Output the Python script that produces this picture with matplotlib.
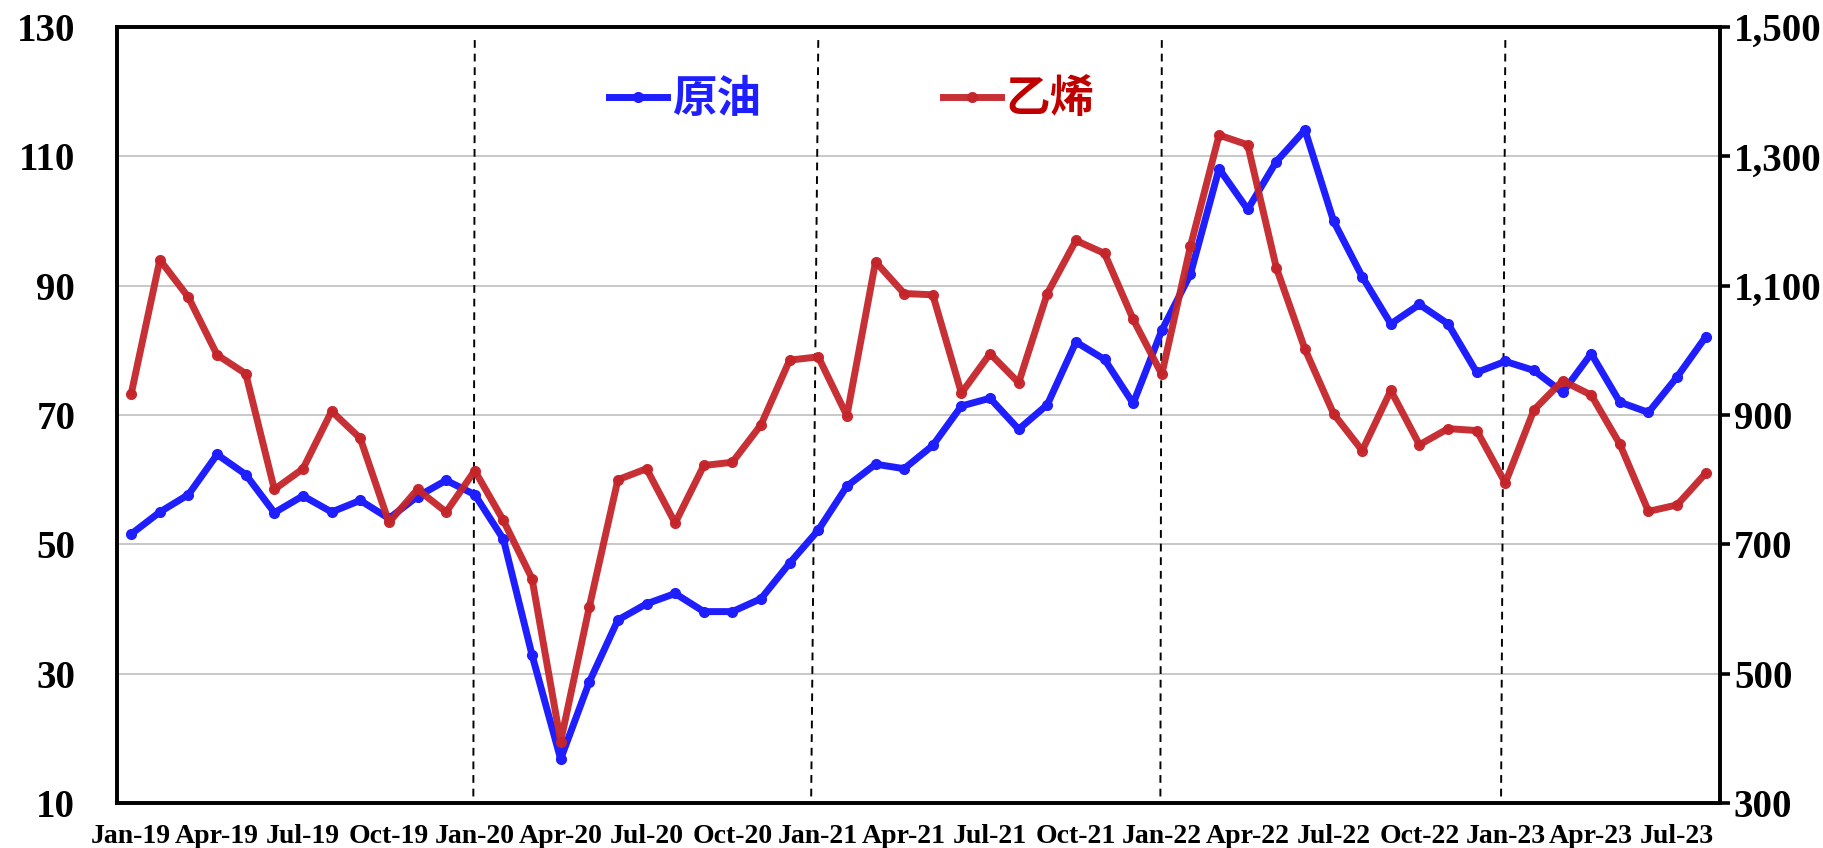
import numpy as np
import matplotlib
matplotlib.use("Agg")
import matplotlib.pyplot as plt
from matplotlib.ticker import FuncFormatter
from matplotlib.font_manager import FontProperties

# Monthly series, Jan-19 .. Aug-23
months = ["Jan", "Feb", "Mar", "Apr", "May", "Jun",
          "Jul", "Aug", "Sep", "Oct", "Nov", "Dec"]
labels = [f"{m}-{y}" for y in range(19, 24) for m in months][:56]

crude = [51.6, 55.0, 57.7, 63.9, 60.8, 54.9, 57.5, 55.0, 56.8, 54.0, 57.4, 59.9,
         57.7, 50.8, 32.9, 16.8, 28.7, 38.3, 40.8, 42.4, 39.6, 39.6, 41.6, 47.1,
         52.2, 59.0, 62.4, 61.7, 65.3, 71.4, 72.6, 67.8, 71.6, 81.3, 78.6, 71.8,
         83.1, 91.8, 108.1, 101.8, 109.2, 114.1, 100.0, 91.4, 84.1, 87.1, 84.1, 76.6,
         78.3, 76.9, 73.5, 79.5, 72.0, 70.4, 75.9, 82.1]

ethylene = [933, 1140, 1082, 993, 964, 785, 817, 906, 864, 734, 785, 750,
            814, 737, 647, 395, 603, 800, 817, 733, 822, 827, 885, 985,
            990, 899, 1137, 1088, 1086, 934, 995, 950, 1088, 1170, 1150, 1048,
            963, 1161, 1333, 1318, 1128, 1002, 902, 845, 938, 854, 879, 876,
            795, 908, 953, 931, 855, 751, 761, 810]

year_starts = ["Jan-20", "Jan-21", "Jan-22", "Jan-23"]
left_ticks = [10, 30, 50, 70, 90, 110, 130]
right_ticks = [300, 500, 700, 900, 1100, 1300, 1500]

BLUE = "#1E1EFF"
RED = "#C4252A"
num_font = {"family": "Liberation Serif", "weight": "bold"}

x = np.arange(len(labels))

fig = plt.figure(figsize=(18.24, 8.48), dpi=100)
ax1 = fig.add_axes([0.0641, 0.0531, 0.8789, 0.9149])
ax2 = ax1.twinx()

# grid on left axis
ax1.set_ylim(10, 130)
ax1.set_yticks(left_ticks)
ax1.yaxis.grid(True, color="#BFBFBF", linewidth=1.2)
ax1.set_axisbelow(True)

l1, = ax1.plot(x, crude, color=BLUE, lw=5, marker="o", ms=7,
               solid_joinstyle="round", zorder=3)

# year separators (slightly slanted like the original drawing)
slant = [0.05, 0.25, 0.05, 0.15]
for lab, s in zip(year_starts, slant):
    i = labels.index(lab)
    ax1.plot([i, i - s], [128, 10], color="black", lw=1.4,
             ls=(0, (4, 3)), zorder=2)

ax2.set_ylim(300, 1500)
ax2.set_yticks(right_ticks)
ax2.yaxis.set_major_formatter(FuncFormatter(lambda v, p: f"{int(v):,}"))
l2, = ax2.plot(x, ethylene, color=RED, lw=5, marker="o", ms=7,
               alpha=0.95, solid_joinstyle="round", zorder=3)

ax1.set_xlim(-0.5, len(labels) - 0.5)
ax1.set_xticks(x[::3])
ax1.set_xticklabels(labels[::3])

for ax in (ax1, ax2):
    for sp in ax.spines.values():
        sp.set_linewidth(2.6)
        sp.set_color("black")

ax1.tick_params(axis="x", length=0, pad=15)
ax1.tick_params(axis="y", length=0, pad=30)
ax2.tick_params(axis="y", direction="out", length=7, width=2.6, pad=3)

for t in ax1.get_xticklabels():
    t.set_fontproperties(FontProperties(size=20, **num_font))
for t in ax1.get_yticklabels() + ax2.get_yticklabels():
    t.set_fontproperties(FontProperties(size=28, **num_font))

leg = fig.legend([l1, l2], ["原油", "乙烯"], loc="center",
                 bbox_to_anchor=(0.467, 0.883), ncol=2, frameon=False,
                 handlelength=1.3, handletextpad=0.1, columnspacing=4.1,
                 prop={"family": ["Noto Sans CJK SC", "DejaVu Sans"],
                       "weight": "bold", "size": 32})
for txt, c in zip(leg.get_texts(), [BLUE, "#C00000"]):
    txt.set_color(c)

fig.savefig("out.png", dpi=100)
